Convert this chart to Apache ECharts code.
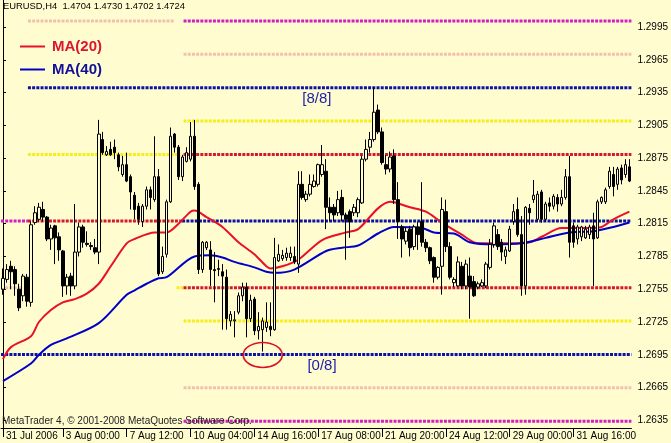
<!DOCTYPE html>
<html><head><meta charset="utf-8">
<script src="https://cdn.jsdelivr.net/npm/echarts@6/dist/echarts.min.js"></script>
<style>html,body{margin:0;padding:0;background:#fffdd0;}#c{width:671px;height:443px;}</style>
</head><body><div id="c"></div>
<script>
// ---------- DATA ----------
// H4 candles: [open, close, low, high]
const candles = [
[1.2755,1.2765,1.2750,1.2774],[1.2764,1.2773,1.2761,1.2778],[1.2776,1.2771,1.2755,1.2781],[1.2773,1.2760,1.2749,1.2776],
[1.2755,1.2738,1.2735,1.2760],[1.2749,1.2767,1.2744,1.2769],[1.2766,1.2744,1.2739,1.2769],[1.2743,1.2814,1.2739,1.2817],
[1.2816,1.2825,1.2814,1.2831],[1.2819,1.2830,1.2817,1.2834],[1.2828,1.2821,1.2817,1.2835],[1.2821,1.2801,1.2799,1.2822],
[1.2801,1.2811,1.2791,1.2814],[1.2813,1.2802,1.2778,1.2814],[1.2803,1.2791,1.2781,1.2807],[1.2790,1.2758,1.2748,1.2791],
[1.2758,1.2766,1.2750,1.2769],[1.2767,1.2758,1.2749,1.2770],[1.2758,1.2789,1.2755,1.2833],[1.2789,1.2812,1.2785,1.2816],
[1.2812,1.2798,1.2793,1.2814],[1.2797,1.2796,1.2794,1.2808],[1.2795,1.2794,1.2791,1.2798],[1.2793,1.2789,1.2787,1.2801],
[1.2789,1.2897,1.2778,1.2910],[1.2892,1.2880,1.2878,1.2899],[1.2878,1.2881,1.2877,1.2886],[1.2883,1.2878,1.2877,1.2890],
[1.2885,1.2880,1.2874,1.2892],[1.2878,1.2867,1.2863,1.2880],[1.2860,1.2869,1.2858,1.2877],[1.2869,1.2854,1.2853,1.2880],
[1.2858,1.2844,1.2828,1.2860],[1.2841,1.2828,1.2819,1.2844],[1.2831,1.2819,1.2814,1.2834],[1.2817,1.2831,1.2812,1.2833],
[1.2831,1.2846,1.2828,1.2849],[1.2846,1.2839,1.2828,1.2849],[1.2837,1.2858,1.2835,1.2895],[1.2858,1.2769,1.2767,1.2865],
[1.2771,1.2785,1.2769,1.2794],[1.2787,1.2835,1.2784,1.2837],[1.2835,1.2895,1.2834,1.2903],[1.2897,1.2885,1.2880,1.2898],
[1.2885,1.2858,1.2855,1.2887],[1.2858,1.2876,1.2854,1.2878],[1.2872,1.2880,1.2871,1.2885],[1.2874,1.2895,1.2872,1.2908],
[1.2895,1.2849,1.2846,1.2910],[1.2851,1.2773,1.2769,1.2853],[1.2773,1.2798,1.2770,1.2799],[1.2793,1.2798,1.2791,1.2799],
[1.2791,1.2773,1.2758,1.2799],[1.2773,1.2772,1.2743,1.2789],[1.2773,1.2774,1.2767,1.2782],[1.2771,1.2767,1.2718,1.2778],
[1.2766,1.2728,1.2718,1.2773],[1.2726,1.2732,1.2721,1.2735],[1.2726,1.2727,1.2711,1.2735],[1.2734,1.2749,1.2732,1.2752],
[1.2749,1.2757,1.2744,1.2761],[1.2757,1.2728,1.2711,1.2761],[1.2728,1.2745,1.2725,1.2750],[1.2746,1.2717,1.2713,1.2748],
[1.2717,1.2721,1.2709,1.2734],[1.2718,1.2726,1.2698,1.2729],[1.2720,1.2725,1.2716,1.2743],[1.2721,1.2718,1.2712,1.2743],
[1.2718,1.2784,1.2717,1.2802],[1.2781,1.2787,1.2780,1.2796],[1.2783,1.2786,1.2781,1.2791],[1.2784,1.2788,1.2781,1.2793],
[1.2784,1.2788,1.2781,1.2794],[1.2785,1.2780,1.2778,1.2794],[1.2778,1.2851,1.2770,1.2863],[1.2851,1.2839,1.2837,1.2863],
[1.2837,1.2842,1.2835,1.2845],[1.2842,1.2851,1.2840,1.2860],[1.2849,1.2854,1.2848,1.2860],[1.2851,1.2869,1.2849,1.2870],
[1.2860,1.2869,1.2858,1.2887],[1.2863,1.2830,1.2810,1.2874],[1.2830,1.2825,1.2817,1.2839],[1.2830,1.2823,1.2817,1.2833],
[1.2825,1.2837,1.2822,1.2845],[1.2839,1.2823,1.2817,1.2846],[1.2823,1.2819,1.2782,1.2825],[1.2826,1.2817,1.2802,1.2828],
[1.2825,1.2830,1.2822,1.2833],[1.2825,1.2837,1.2821,1.2839],[1.2834,1.2874,1.2833,1.2877],[1.2874,1.2883,1.2872,1.2892],
[1.2885,1.2892,1.2880,1.2899],[1.2892,1.2917,1.2890,1.2940],[1.2919,1.2899,1.2897,1.2924],[1.2899,1.2871,1.2869,1.2903],
[1.2869,1.2865,1.2860,1.2878],[1.2865,1.2876,1.2862,1.2881],[1.2877,1.2837,1.2833,1.2883],[1.2837,1.2817,1.2801,1.2853],
[1.2812,1.2801,1.2784,1.2814],[1.2799,1.2808,1.2796,1.2812],[1.2810,1.2793,1.2785,1.2813],[1.2794,1.2812,1.2791,1.2814],
[1.2812,1.2805,1.2791,1.2817],[1.2817,1.2798,1.2794,1.2853],[1.2798,1.2793,1.2789,1.2801],[1.2793,1.2781,1.2778,1.2794],
[1.2784,1.2766,1.2761,1.2785],[1.2766,1.2775,1.2764,1.2776],[1.2776,1.2828,1.2750,1.2839],[1.2826,1.2794,1.2789,1.2837],
[1.2794,1.2766,1.2764,1.2798],[1.2761,1.2764,1.2757,1.2766],[1.2758,1.2780,1.2757,1.2785],[1.2776,1.2758,1.2755,1.2780],
[1.2758,1.2778,1.2755,1.2782],[1.2767,1.2757,1.2728,1.2784],[1.2762,1.2749,1.2748,1.2767],[1.2757,1.2760,1.2755,1.2762],
[1.2758,1.2761,1.2757,1.2764],[1.2758,1.2778,1.2756,1.2780],[1.2775,1.2796,1.2773,1.2801],[1.2796,1.2813,1.2793,1.2816],
[1.2805,1.2794,1.2791,1.2810],[1.2798,1.2789,1.2781,1.2801],[1.2785,1.2791,1.2778,1.2794],[1.2790,1.2810,1.2789,1.2813],
[1.2817,1.2826,1.2814,1.2833],[1.2828,1.2805,1.2803,1.2839],[1.2805,1.2758,1.2749,1.2822],[1.2758,1.2830,1.2750,1.2831],
[1.2829,1.2825,1.2814,1.2833],[1.2837,1.2841,1.2834,1.2855],[1.2819,1.2842,1.2817,1.2845],[1.2844,1.2819,1.2816,1.2846],
[1.2819,1.2833,1.2817,1.2835],[1.2834,1.2831,1.2826,1.2839],[1.2831,1.2840,1.2828,1.2842],[1.2839,1.2833,1.2826,1.2842],
[1.2833,1.2839,1.2831,1.2846],[1.2839,1.2858,1.2837,1.2865],[1.2858,1.2798,1.2784,1.2877],[1.2813,1.2798,1.2793,1.2816],
[1.2801,1.2812,1.2796,1.2814],[1.2803,1.2812,1.2799,1.2813],[1.2802,1.2810,1.2801,1.2813],[1.2805,1.2812,1.2801,1.2814],
[1.2813,1.2801,1.2758,1.2825],[1.2802,1.2835,1.2801,1.2837],[1.2835,1.2839,1.2833,1.2840],[1.2835,1.2846,1.2833,1.2848],
[1.2849,1.2863,1.2847,1.2867],[1.2860,1.2849,1.2840,1.2867],[1.2851,1.2865,1.2846,1.2867],[1.2866,1.2855,1.2851,1.2869],
[1.2860,1.2869,1.2857,1.2874],[1.2867,1.2854,1.2853,1.2874]
];
// Moving averages: bar index -> value
const ma20Bars = [0,2,7,9,12,15,18,21,24,27,31,33,38,41,44,47,48,51,55,59,63,66,67,70,74,80,86,89,94,97,102,106,110,115,119,127,132,135,140,147,150,153,157];
const ma20Vals = [1.2691,1.2702,1.2712,1.2725,1.2736,1.2743,1.2746,1.2751,1.2760,1.2776,1.2797,1.2801,1.2807,1.2807,1.2815,1.2826,1.2827,1.2821,1.2812,1.2798,1.2787,1.2776,1.2774,1.2776,1.2782,1.2800,1.2807,1.2810,1.2829,1.2835,1.2830,1.2826,1.2816,1.2805,1.2797,1.2797,1.2798,1.2803,1.2811,1.2811,1.2812,1.2819,1.2826];
const ma40Bars = [0,7,9,12,16,24,31,33,36,39,41,48,52,55,58,63,66,68,73,81,85,89,94,98,105,108,113,117,123,130,136,142,148,153,157];
const ma40Vals = [1.2671,1.2687,1.2695,1.2704,1.2710,1.2724,1.2750,1.2754,1.2760,1.2765,1.2766,1.2785,1.2786,1.2784,1.2780,1.2775,1.2771,1.2770,1.2773,1.2790,1.2793,1.2795,1.2806,1.2812,1.2811,1.2807,1.2806,1.2798,1.2796,1.2797,1.2802,1.2807,1.2808,1.2812,1.2816];
// Murrey Math levels (-2/8 ... +2/8, 3/8 and 5/8 not drawn)
const murreyLevels = [1.26342773,1.26647949,1.26953125,1.27258301,1.27563477,1.28173828,1.28784180,1.29089355,1.29394531,1.29699707,1.30004883];
const yTickValues = [1.2635,1.2665,1.2695,1.2725,1.2755,1.2785,1.2815,1.2845,1.2875,1.2905,1.2935,1.2965,1.2995];
const xTickBars = [0,15,31,47,63,79,95,111,127,143];
const xTickTexts = ['31 Jul 2006','3 Aug 00:00','7 Aug 12:00','10 Aug 04:00','14 Aug 16:00','17 Aug 08:00','21 Aug 20:00','24 Aug 12:00','29 Aug 00:00','31 Aug 16:00'];
const titleText = 'EURUSD,H4  1.4704 1.4730 1.4702 1.4724';

// ---------- STYLE / LAYOUT ----------
const BG = '#fffdd0';
const FONT = "Tahoma, 'Liberation Sans', Arial, sans-serif";
const COL = {m:'#d21ec4', p:'#f2c0ae', b:'#0c12a4', y:'#f6ee1c', r:'#d4182e'};
// frames of the Murrey grid in bar units
const FA = [-0.5, 6.25], FB = [6.25, 44.5], FC = [45.25, 157.5];
// [levelIndex, from, to, colourKey]
const segs = [
  [5, FA[0], FA[1], 'm'], [5, FB[0], 44.9, 'r'], [5, 44.9, FC[1], 'b'],
  [4, FA[0], FA[1], 'p'], [4, 43.5, FC[0], 'y'], [4, FC[0], FC[1], 'r'],
  [2, FA[0], FC[1], 'b'],
  [6, FB[0], FB[1], 'y'], [6, FC[0], FC[1], 'r'],
  [7, FC[0], FC[1], 'y'],
  [8, FB[0], FC[1], 'b'],
  [9, FC[0], FC[1], 'p'],
  [10, FB[0], 43, 'p'], [10, FC[0], FC[1], 'm'],
  [3, FC[0], FC[1], 'y'],
  [1, FC[0], FC[1], 'p'],
  [0, FC[0], FC[1], 'm']
];

const cats = candles.map((_, i) => String(i));
const series = [];
segs.forEach(s => {
  series.push({
    type:'line', xAxisIndex:1, yAxisIndex:0, silent:true, symbol:'none', z:1,
    data:[[s[1], murreyLevels[s[0]]],[s[2], murreyLevels[s[0]]]],
    lineStyle:{color:COL[s[3]], width:3, type:[3,1.2], cap:'butt'}
  });
});
series.push({
  type:'line', name:'MA(20)', xAxisIndex:0, symbol:'none', z:3, silent:true,
  data: ma20Bars.map((b,i)=>[b, ma20Vals[i]]), smooth:0.3,
  lineStyle:{color:'#e8102a', width:2}, itemStyle:{color:'#e8102a'}
});
series.push({
  type:'line', name:'MA(40)', xAxisIndex:0, symbol:'none', z:3, silent:true,
  data: ma40Bars.map((b,i)=>[b, ma40Vals[i]]), smooth:0.3,
  lineStyle:{color:'#0000c8', width:2}, itemStyle:{color:'#0000c8'}
});
series.push({
  type:'candlestick', xAxisIndex:0, z:4, barWidth:3, silent:true,
  data:candles,
  itemStyle:{color:BG, color0:'#000000', borderColor:'#000000', borderColor0:'#000000', borderWidth:1}
});

const chart = echarts.init(document.getElementById('c'));
chart.setOption({
  animation:false,
  backgroundColor:BG,
  grid:{left:1, top:0, width:632, height:428, containLabel:false},
  xAxis:[{
    type:'category', data:cats, boundaryGap:true,
    axisLine:{show:true, lineStyle:{color:'#000', width:1}},
    axisTick:{show:true, alignWithLabel:true, length:9, interval:(i)=>xTickBars.includes(i), lineStyle:{color:'#000'}},
    axisLabel:{show:true, interval:(i)=>xTickBars.includes(i), align:'left', margin:3, padding:[0,0,0,3],
      fontFamily:FONT, fontSize:10, color:'#000',
      formatter:(v,i)=>{const k=xTickBars.indexOf(i); return k>=0?xTickTexts[k]:'';}},
    splitLine:{show:false}
  },{
    type:'value', min:-0.5, max:157.5, show:false
  }],
  yAxis:[{
    type:'value', position:'right', min:1.26280, max:1.30197, scale:true,
    axisLine:{show:true, lineStyle:{color:'#000', width:1}},
    axisTick:{show:true, length:3, customValues:yTickValues, lineStyle:{color:'#000'}},
    axisLabel:{show:true, customValues:yTickValues, margin:6, fontFamily:FONT, fontSize:10, color:'#000',
      formatter:(v)=>v.toFixed(4)},
    splitLine:{show:false}
  }],
  legend:{
    show:true, orient:'vertical', left:15, top:34, itemWidth:25, itemHeight:2, itemGap:8, icon:'rect',
    data:[{name:'MA(20)', textStyle:{color:'#dc1530'}},{name:'MA(40)', textStyle:{color:'#10109a'}}],
    textStyle:{fontFamily:"'Liberation Sans', Arial, sans-serif", fontSize:15, fontWeight:'bold', padding:[0,0,0,2]},
    selectedMode:false
  },
  series:series
});

const p8 = chart.convertToPixel({xAxisIndex:1, yAxisIndex:0}, [75, murreyLevels[8]]);
const p0 = chart.convertToPixel({xAxisIndex:1, yAxisIndex:0}, [76.3, murreyLevels[2]]);
const pc = chart.convertToPixel({xAxisIndex:1, yAxisIndex:0}, [65.1, murreyLevels[2]]);
chart.setOption({graphic:[
  {type:'text', left:3, top:2, style:{text:titleText, font:"9.4px "+FONT, fill:'#000'}},
  {type:'text', x:2, y:416, style:{text:'MetaTrader 4, \u00a9 2001-2008 MetaQuotes Software Corp.', font:"10px "+FONT, fill:'#222'}, z:10},
  {type:'text', x:p8[0], y:p8[1]+4, style:{text:'[8/8]', font:"15px 'Liberation Sans', Arial, sans-serif", fill:'#1c1ca8'}},
  {type:'text', x:p0[0], y:p0[1]+4, style:{text:'[0/8]', font:"15px 'Liberation Sans', Arial, sans-serif", fill:'#1c1ca8'}},
  {type:'ellipse', shape:{cx:pc[0], cy:pc[1]+0.5, rx:19.5, ry:12.5}, style:{fill:null, stroke:'#e01020', lineWidth:1.6}, z:20}
]});
</script>
</body></html>
